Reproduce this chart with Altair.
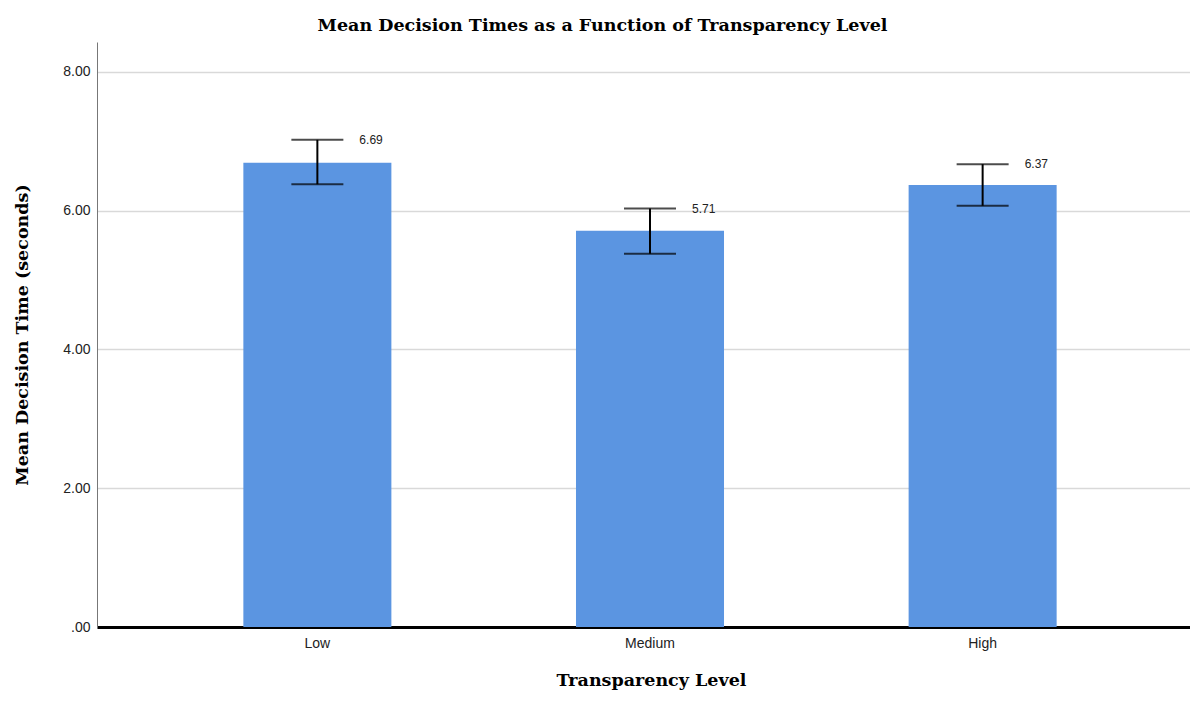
import altair as alt
import pandas as pd

levels = ["Low", "Medium", "High"]
means = [6.69, 5.71, 6.37]
err_low = [6.38, 5.38, 6.07]
err_high = [7.02, 6.03, 6.67]
labels = ["6.69", "5.71", "6.37"]

df = pd.DataFrame({"level": levels, "mean": means, "lo": err_low, "hi": err_high, "label": labels})

SERIF = "DejaVu Serif"
x = alt.X("level:N", sort=levels, title="Transparency Level",
          scale=alt.Scale(paddingInner=0.555, paddingOuter=0.44, range=[0, 1106]),
          axis=alt.Axis(labelAngle=0, domainColor="black", domainWidth=3, ticks=False,
                        labelFont="Liberation Sans", labelFontSize=14, labelColor="#222",
                        labelPadding=9, titleFont=SERIF, titleFontSize=17.5,
                        titleFontWeight="bold", titleColor="black", titlePadding=21,
                        titleX=554, grid=False))
yscale = alt.Scale(domain=[0, 8.43], nice=False)
base = alt.Chart(df)

bars = base.mark_bar(color="#5B95E1").encode(
    x=x,
    y=alt.Y("mean:Q", scale=yscale, title="Mean Decision Time (seconds)",
            axis=alt.Axis(values=[0, 2, 4, 6, 8], ticks=False, domainColor="#777", domainWidth=1,
                          labelExpr="datum.value == 0 ? '.00' : format(datum.value, '.2f')",
                          labelFont="Liberation Sans", labelFontSize=14, labelColor="#222",
                          labelPadding=7, gridColor="#d9d9d9", gridWidth=1.5,
                          titleFont=SERIF, titleFontSize=17.5, titleFontWeight="bold",
                          titleColor="black", titlePadding=31))
)
xs = alt.X("level:N", sort=levels)
rule = base.mark_rule(color="black", strokeWidth=2).encode(x=xs, y="lo:Q", y2="hi:Q")
cap_hi = base.mark_tick(color="black", thickness=2, size=52, orient="horizontal").encode(x=xs, y="hi:Q")
cap_lo = base.mark_tick(color="black", thickness=2, size=52, orient="horizontal").encode(x=xs, y="lo:Q")
text = base.mark_text(align="left", baseline="middle", dx=42, font="Liberation Sans", fontSize=12, color="#222").encode(
    x=xs, y="hi:Q", text="label:N")

chart = alt.layer(bars, rule, cap_hi, cap_lo, text).properties(
    width=1093, height=585,
    title=alt.TitleParams("Mean Decision Times as a Function of Transparency Level",
                          font=SERIF, fontSize=17.5, fontWeight="bold", color="black",
                          anchor="middle", dx=-41, offset=8),
    autosize=alt.AutoSizeParams(type="none"),
    padding={"left": 89, "top": 34, "right": 0, "bottom": 66},
    background="white",
).configure_view(stroke=None)

chart.save("out.html", embed_options={"renderer": "svg", "actions": False})
